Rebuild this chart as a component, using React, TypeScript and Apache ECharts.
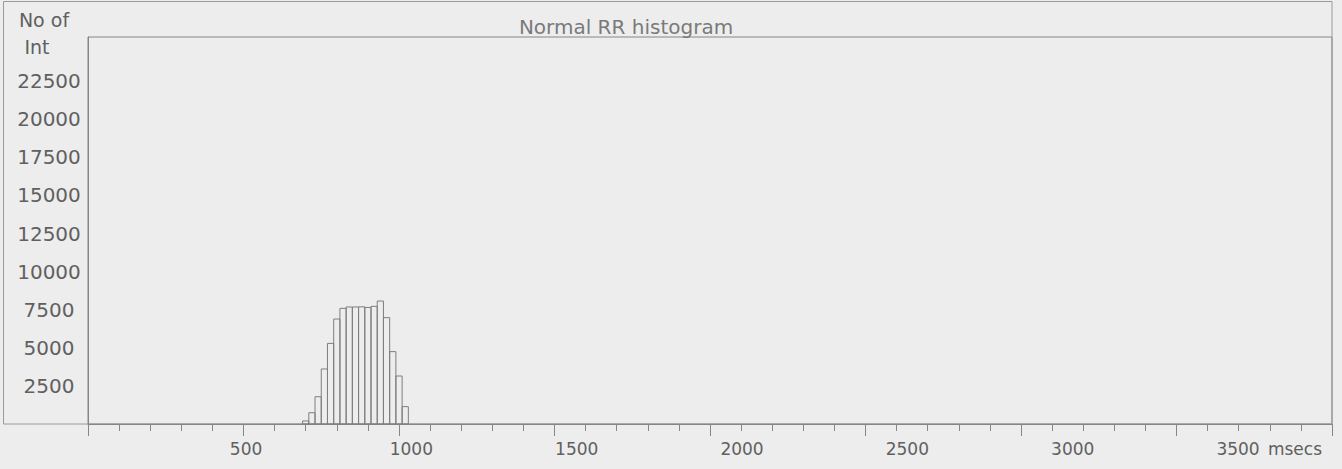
import React, { useEffect, useRef } from "react";
import * as echarts from "echarts";

// Histogram bins (ms) and counts
const binStarts = [690, 710, 730, 750, 770, 790, 810, 830, 850, 870, 890, 910, 930, 950, 970, 990, 1010];
const binWidth = 20;
const counts = [200, 740, 1790, 3610, 5290, 6890, 7590, 7680, 7680, 7690, 7650, 7720, 8070, 6980, 4750, 3150, 1140];

// Tick labels
const xTickLabels = [500, 1000, 1500, 2000, 2500, 3000, 3500];
const yTickLabels = [2500, 5000, 7500, 10000, 12500, 15000, 17500, 20000, 22500];

const titleText = "Normal RR histogram";
const yNameLines = ["No of", "Int"];
const xUnit = "msecs";

const TEXT = "#606060";
const LINE = "#868686";
const FONT = "DejaVu Sans";

export default function App() {
  const ref = useRef<HTMLDivElement>(null);
  useEffect(() => {
    document.body.style.margin = "0";
    if (!ref.current) return;
    const chart = echarts.init(ref.current, undefined, { renderer: "svg" });
    const data = binStarts.map((s, i) => [s, s + binWidth, counts[i]]);
    chart.setOption({
      animation: false,
      backgroundColor: "#ededed",
      title: {
        text: titleText,
        left: 621,
        textAlign: "center",
        top: 12,
        textStyle: { color: "#7a7a7a", fontWeight: "normal", fontSize: 20, fontFamily: FONT },
      },
      grid: [
        { left: 88, right: 10, top: 37, bottom: 45, show: true, borderColor: LINE, borderWidth: 1, backgroundColor: "transparent" },
        { left: 80.7, width: 1240, top: 37, bottom: 45, show: false },
      ],
      xAxis: [
        {
          type: "value",
          gridIndex: 0,
          min: 0,
          max: 4000,
          interval: 500,
          axisLine: { show: true, lineStyle: { color: LINE, width: 1 } },
          axisTick: { show: true, length: 12, lineStyle: { color: LINE } },
          minorTick: { show: true, splitNumber: 5, length: 7, lineStyle: { color: LINE } },
          axisLabel: { show: false },
          splitLine: { show: false },
          minorSplitLine: { show: false },
        },
        {
          type: "value",
          gridIndex: 1,
          min: 0,
          max: 3750,
          interval: 500,
          axisLine: { show: false },
          axisTick: { show: false },
          splitLine: { show: false },
          axisLabel: {
            margin: 16,
            color: TEXT,
            fontSize: 17,
            fontFamily: FONT,
            formatter: (v: number) => (xTickLabels.includes(v) ? String(v) : ""),
          },
        },
      ],
      yAxis: [
        {
          type: "value",
          gridIndex: 0,
          min: 0,
          max: 25400,
          interval: 2500,
          axisLine: { show: true, lineStyle: { color: LINE } },
          axisTick: { show: false },
          splitLine: { show: false },
          axisLabel: {
            align: "center",
            margin: 39,
            padding: [10, 0, 0, 0],
            color: TEXT,
            fontSize: 20,
            fontFamily: FONT,
            formatter: (v: number) => (yTickLabels.includes(v) ? String(v) : ""),
          },
        },
        { type: "value", gridIndex: 1, min: 0, max: 1, show: false },
      ],
      series: [
        {
          type: "custom",
          xAxisIndex: 0,
          yAxisIndex: 0,
          encode: { x: [0, 1], y: 2 },
          data,
          renderItem: (params: any, api: any) => {
            const p0 = api.coord([api.value(0), api.value(2)]);
            const p1 = api.coord([api.value(1), 0]);
            return {
              type: "rect",
              shape: { x: p0[0], y: p0[1], width: p1[0] - p0[0], height: p1[1] - p0[1] },
              style: { fill: "none", stroke: "#7e7e7e", lineWidth: 1 },
            };
          },
        },
      ],
      graphic: [
        {
          type: "rect",
          shape: { x: 3.5, y: 1.5, width: 1328.5, height: 422.5 },
          style: { fill: "none", stroke: "#9a9a9a", lineWidth: 1 },
          silent: true,
        },
        {
          type: "text",
          x: 44,
          y: 20,
          style: { text: yNameLines[0], fill: TEXT, font: `19px ${FONT}`, textAlign: "center", textVerticalAlign: "middle" },
        },
        {
          type: "text",
          x: 37,
          y: 47,
          style: { text: yNameLines[1], fill: TEXT, font: `19px ${FONT}`, textAlign: "center", textVerticalAlign: "middle" },
        },
        {
          type: "text",
          x: 1295,
          y: 449,
          style: { text: xUnit, fill: TEXT, font: `17px ${FONT}`, textAlign: "center", textVerticalAlign: "middle" },
        },
      ],
    });
    return () => chart.dispose();
  }, []);
  return <div ref={ref} style={{ position: "fixed", left: 0, top: 0, width: 1342, height: 469 }} />;
}
